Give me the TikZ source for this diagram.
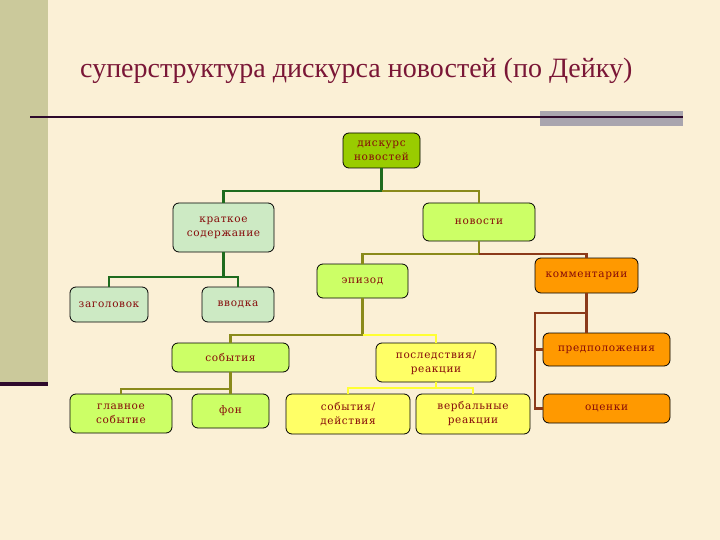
\documentclass[tikz,border=0pt]{standalone}
\usepackage{fontspec}
\setmainfont{Liberation Serif}
\newfontfamily\boxfont[LetterSpace=6]{DejaVu Serif}
\definecolor{bgcol}{HTML}{FBF0D6}
\definecolor{barcol}{HTML}{CBC99B}
\definecolor{rulecol}{HTML}{2E0A2C}
\definecolor{greybar}{HTML}{A9A5AE}
\definecolor{titlecol}{HTML}{7A1636}
\definecolor{boxtext}{HTML}{860A0A}
\definecolor{palegreen}{HTML}{CDEAC4}
\definecolor{lime}{HTML}{CCFF66}
\definecolor{topgreen}{HTML}{99CC00}
\definecolor{paleyellow}{HTML}{FFFF66}
\definecolor{orng}{HTML}{FF9900}
\definecolor{grnline}{HTML}{1E6B1E}
\definecolor{olvline}{HTML}{8A8A1A}
\definecolor{yelline}{HTML}{FFFF33}
\definecolor{brnline}{HTML}{8B3A1A}
\begin{document}
\begin{tikzpicture}[x=1pt, y=-1pt,
    box/.style={draw, rounded corners=6pt, line width=0.8pt, align=center, inner sep=1pt,
      font=\boxfont\fontsize{10.5}{14}\selectfont, text=boxtext},
    conn/.style={line width=2.6pt},
    grn/.style={conn, grnline}, olv/.style={conn, olvline},
    yel/.style={conn, yelline}, brn/.style={conn, brnline}]
    \useasboundingbox (0,0) rectangle (720,540);
    \fill[bgcol] (0,0) rectangle (720,540);
    \fill[barcol] (0,0) rectangle (48,382); \fill[rulecol] (0,382) rectangle (48,386);
    \node[anchor=base west, inner sep=0pt, text=titlecol, font=\fontsize{28}{32}\selectfont] (title) at (80,78) {суперструктура дискурса новостей (по Дейку)};
    \fill[greybar] (540,111) rectangle (683,126);
    \draw[rulecol, line width=2.8pt] (30,117) -- (683,117);
    % boxes
    \node[box, fill=topgreen, minimum width=77pt, minimum height=35pt] (disk) at (381.5,150.5) {дискурс\\новостей};
    \node[box, fill=palegreen, minimum width=101pt, minimum height=49pt] (krat) at (223.5,227.5) {краткое\\содержание};
    \node[box, fill=lime, minimum width=112pt, minimum height=38pt] (nov) at (479,222) {новости};
    \node[box, fill=lime, minimum width=91pt, minimum height=34pt] (epi) at (362.5,281) {эпизод};
    \node[box, fill=orng, minimum width=103pt, minimum height=35pt] (kom) at (586.5,275.5) {комментарии};
    \node[box, fill=palegreen, minimum width=78pt, minimum height=35pt] (zag) at (109,304.5) {заголовок};
    \node[box, fill=palegreen, minimum width=72pt, minimum height=35pt] (vvod) at (238,304.5) {вводка};
    \node[box, fill=lime, minimum width=117pt, minimum height=29pt] (sob) at (230.5,357.5) {события};
    \node[box, fill=paleyellow, minimum width=120pt, minimum height=39pt] (posl) at (436,362.5) {последствия/\\реакции};
    \node[box, fill=orng, minimum width=127pt, minimum height=33pt] (pred) at (606.5,349.5) {предположения};
    \node[box, fill=lime, minimum width=102pt, minimum height=39pt] (glav) at (121,413.5) {главное\\событие};
    \node[box, fill=lime, minimum width=77pt, minimum height=34pt] (fon) at (230.5,411) {фон};
    \node[box, fill=paleyellow, minimum width=124pt, minimum height=40pt] (sobd) at (348,414) {события/\\действия};
    \node[box, fill=paleyellow, minimum width=114pt, minimum height=40pt] (verb) at (473,414) {вербальные\\реакции};
    \node[box, fill=orng, minimum width=127pt, minimum height=29pt] (otsen) at (606.5,408.5) {оценки};
    % junctions
    \coordinate (j1) at (381.5,191); \coordinate (j2) at (223.5,277);
    \coordinate (j3) at (479,254); \coordinate (j4) at (362.5,335);
    \coordinate (j5) at (230.5,389); \coordinate (j6) at (436,388);
    \coordinate (j7) at (586.5,313); \coordinate (j8) at (535,313);
    % connectors
    \draw[grn] (disk) -- (j1) -| (krat);
    \draw[olv] (j1) -| (nov);
    \draw[grn] (krat) -- (j2) -| (zag); \draw[grn] (j2) -| (vvod);
    \draw[olv] (nov) -- (j3) -| (epi);
    \draw[brn] (j3) -| (kom);
    \draw[olv] (epi) -- (j4) -| (sob);
    \draw[yel] (j4) -| (posl);
    \draw[olv] (sob) -- (j5) -| (glav); \draw[olv] (j5) -- (fon);
    \draw[yel] (posl) -- (j6) -| (sobd); \draw[yel] (j6) -| (verb);
    \draw[brn] (kom) -- (kom |- pred.north);
    \draw[brn] (j7) -- (j8) |- (pred); \draw[brn] (j8) |- (otsen);
\end{tikzpicture}
\end{document}
